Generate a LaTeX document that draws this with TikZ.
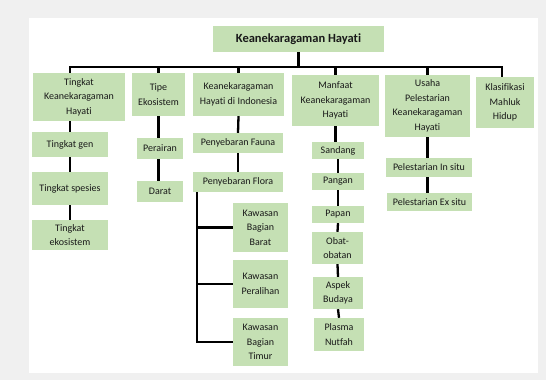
\documentclass[tikz,border=0pt]{standalone}
\usepackage{fontspec}
\setmainfont{Carlito}[Ligatures=NoCommon]
\usepackage{tikz}
\usetikzlibrary{positioning}
\definecolor{boxgreen}{RGB}{197,224,180}
\definecolor{pagegray}{RGB}{240,240,240}

\begin{document}
\begin{tikzpicture}[x=1pt,y=-1pt,
    box/.style={fill=boxgreen,align=center,inner sep=0pt,text=black!90,
        font=\fontsize{10}{14.5}\selectfont},
    conn/.style={line width=2.3pt,black}]
    \useasboundingbox (0,0) rectangle (546,380);
    \fill[pagegray] (0,0) rectangle (546,380);
    \fill[white] (29,18) rectangle (538,373);
    % root
    \node[box,minimum width=171pt,minimum height=26pt,
        font=\fontsize{12.5}{15}\selectfont\bfseries] (root) at (298.5,39) {Keanekaragaman Hayati};
    % first level
    \node[box,minimum width=92pt,minimum height=48pt] (tkh) at (79,97) {Tingkat\\Keanekaragaman\\Hayati};
    \node[box,minimum width=53pt,minimum height=43pt] (tipe) at (158.5,94.5) {Tipe\\Ekosistem};
    \node[box,minimum width=91pt,minimum height=43pt] (khi) at (238.5,94.5) {Keanekaragaman\\Hayati di Indonesia};
    \node[box,minimum width=87pt,minimum height=51pt] (manfaat) at (335.5,100.5) {Manfaat\\Keanekaragaman\\Hayati};
    \node[box,minimum width=85pt,minimum height=62pt] (usaha) at (427.5,106) {Usaha\\Pelestarian\\Keanekaragaman\\Hayati};
    \node[box,minimum width=58pt,minimum height=51pt] (klas) at (505,102.5) {Klasifikasi\\Mahluk\\Hidup};
    % tingkat
    \node[box,minimum width=76pt,minimum height=25pt] (tgen) at (70,144.5) {Tingkat gen};
    \node[box,minimum width=76pt,minimum height=33pt] (tspes) at (70,188.5) {Tingkat spesies};
    \node[box,minimum width=76pt,minimum height=30pt] (teko) at (70,235) {Tingkat\\ekosistem};
    % ekosistem
    \node[box,minimum width=46pt,minimum height=21pt] (perairan) at (160,148.5) {Perairan};
    \node[box,minimum width=46pt,minimum height=21pt] (darat) at (160,191.5) {Darat};
    % indonesia
    \node[box,minimum width=90pt,minimum height=20pt] (fauna) at (238,143) {Penyebaran Fauna};
    \node[box,minimum width=90pt,minimum height=20pt] (flora) at (238,182) {Penyebaran Flora};
    \node[box,minimum width=55pt,minimum height=49pt] (barat) at (260.5,227.5) {Kawasan\\Bagian\\Barat};
    \node[box,minimum width=55pt,minimum height=48pt] (peralihan) at (260.5,284) {Kawasan\\Peralihan};
    \node[box,minimum width=55pt,minimum height=48pt] (timur) at (260.5,342) {Kawasan\\Bagian\\Timur};
    % manfaat
    \node[box,minimum width=52pt,minimum height=17pt] (sandang) at (338,150.5) {Sandang};
    \node[box,minimum width=52pt,minimum height=17pt] (pangan) at (338,181.5) {Pangan};
    \node[box,minimum width=52pt,minimum height=17pt] (papan) at (338,214.5) {Papan};
    \node[box,minimum width=51pt,minimum height=32pt] (obat) at (337.5,248) {Obat-\\obatan};
    \node[box,minimum width=50pt,minimum height=32pt] (aspek) at (338,293) {Aspek\\Budaya};
    \node[box,minimum width=50pt,minimum height=33pt] (plasma) at (339,334.5) {Plasma\\Nutfah};
    % pelestarian
    \node[box,minimum width=86pt,minimum height=19pt] (insitu) at (429,167.5) {Pelestarian In situ};
    \node[box,minimum width=85pt,minimum height=18pt] (exsitu) at (429.5,202) {Pelestarian Ex situ};

    % connectors
    \coordinate (busL) at (70,67);
    \coordinate (busR) at (502,67);
    \draw[conn] (root.south) -- (root.south |- busL);
    \draw[conn] (tkh.north -| busL) -- (busL) -- (busR) -- (busR |- klas.north);
    \foreach \n in {tipe,khi,manfaat,usaha}
        \draw[conn] (\n.north |- busL) -- (\n.north);
    \draw[conn] (tkh.south -| busL) -- (tgen.north -| busL);
    \draw[conn] (tgen.south -| busL) -- (tspes.north -| busL);
    \draw[conn] (tspes.south -| busL) -- (teko.north -| busL);
    \draw[conn] (tipe.south) -- (tipe.south |- perairan.north);
    \draw[conn] (perairan.south -| tipe.south) -- (tipe.south |- darat.north);
    \draw[conn] (khi.south) -- (fauna.north);
    \draw[conn] (fauna.south) -- (flora.north);
    \coordinate (fl) at ([xshift=4pt]flora.south west);
    \draw[conn] (fl) -- (fl |- timur.west) -- (timur.west);
    \draw[conn] (fl |- barat.west) -- (barat.west);
    \draw[conn] (fl |- peralihan.west) -- (peralihan.west);
    \draw[conn] (manfaat.south -| manfaat.south) -- (manfaat.south |- sandang.north);
    \draw[conn] (sandang.south) -- (pangan.north);
    \draw[conn] (pangan.south) -- (papan.north);
    \draw[conn] (papan.south) -- (obat.north);
    \draw[conn] (obat.south) -- (aspek.north);
    \draw[conn] (aspek.south) -- (plasma.north);
    \draw[conn] (usaha.south) -- (usaha.south |- insitu.north);
    \draw[conn] (insitu.south -| usaha.south) -- (usaha.south |- exsitu.north);
\end{tikzpicture}
\end{document}
